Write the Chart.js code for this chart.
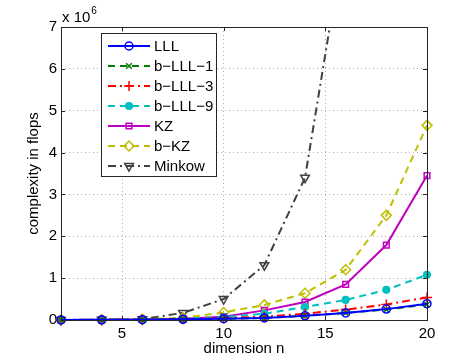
<!DOCTYPE html>
<html><head><meta charset="utf-8">
<script src="https://cdn.jsdelivr.net/npm/chart.js@4/dist/chart.umd.min.js"></script>
<style>html,body{margin:0;padding:0;background:#fff}#w{width:471px;height:360px}</style>
</head><body><div id="w"><canvas id="c" width="471" height="360"></canvas></div>
<script>
const dims = [2, 4, 6, 8, 10, 12, 14, 16, 18, 20];
const xTicks = [5, 10, 15, 20];
const yTicks = [0, 1, 2, 3, 4, 5, 6, 7];
// values in units of 10^6 flops
const LLL    = [0.001, 0.003, 0.008, 0.015, 0.03, 0.05, 0.10, 0.17, 0.26, 0.39];
const bLLL1  = [0.001, 0.003, 0.007, 0.014, 0.028, 0.05, 0.10, 0.17, 0.25, 0.37];
const bLLL3  = [0.001, 0.003, 0.010, 0.020, 0.04, 0.08, 0.15, 0.25, 0.37, 0.54];
const bLLL9  = [0.001, 0.004, 0.012, 0.030, 0.07, 0.15, 0.31, 0.48, 0.72, 1.08];
const KZ     = [0.001, 0.004, 0.012, 0.030, 0.08, 0.23, 0.43, 0.85, 1.79, 3.45];
const bKZ    = [0.001, 0.005, 0.020, 0.050, 0.18, 0.36, 0.64, 1.20, 2.50, 4.65];
const Minkow = [0.002, 0.005, 0.020, 0.17, 0.50, 1.31, 3.40, 9.3, null, null];
const names = ["LLL", "b\u2212LLL\u22121", "b\u2212LLL\u22123", "b\u2212LLL\u22129", "KZ", "b\u2212KZ", "Minkow"];

const FONT = '"Liberation Sans", Arial, Helvetica, sans-serif';
const mk = (label, data, color, dash, style, fill, rot, r) => ({
  label, data: dims.map((x, i) => ({x, y: data[i]})),
  borderColor: color, backgroundColor: fill ? color : 'rgba(0,0,0,0)',
  borderWidth: 2, borderDash: dash, pointStyle: style, pointRadius: r || 4,
  pointBorderWidth: 1.5, pointBorderColor: color, pointBackgroundColor: fill ? color : 'rgba(0,0,0,0)',
  pointRotation: rot || 0, tension: 0, spanGaps: false,
  clip: {left: 10, right: 10, bottom: 10, top: 0}
});
const datasets = [
  mk(names[0], LLL, '#0000ff', [], 'circle', false),
  mk(names[1], bLLL1, '#008000', [7, 5], 'crossRot', false),
  mk(names[2], bLLL3, '#ff0000', [8, 4, 2, 4], 'cross', false, 0, 5),
  mk(names[3], bLLL9, '#00bfbf', [7, 5], 'circle', true, 0, 3.3),
  mk(names[4], KZ, '#bf00bf', [], 'rect', false),
  mk(names[5], bKZ, '#bfbf00', [7, 5], 'rectRot', false, 0, 5),
  mk(names[6], Minkow, '#404040', [8, 4, 2, 4], 'triangle', false, 180, 5)
];

const framePlugin = {
  id: 'frame',
  afterDraw(chart) {
    const {ctx, chartArea: a, scales} = chart;
    ctx.save();
    ctx.strokeStyle = '#262626'; ctx.lineWidth = 1;
    ctx.strokeRect(a.left + 0.5, a.top + 0.5, a.right - a.left, a.bottom - a.top);
    ctx.beginPath();
    xTicks.forEach(v => { const p = Math.round(scales.x.getPixelForValue(v)) + 0.5;
      ctx.moveTo(p, a.bottom); ctx.lineTo(p, a.bottom - 4);
      ctx.moveTo(p, a.top); ctx.lineTo(p, a.top + 4); });
    yTicks.forEach(v => { const p = Math.round(scales.y.getPixelForValue(v)) + 0.5;
      ctx.moveTo(a.left, p); ctx.lineTo(a.left + 4, p);
      ctx.moveTo(a.right, p); ctx.lineTo(a.right - 4, p); });
    ctx.stroke();
    // exponent label
    ctx.fillStyle = '#000'; ctx.textBaseline = 'alphabetic'; ctx.textAlign = 'left';
    ctx.font = '15px ' + FONT;
    ctx.fillText('x 10', a.left + 1, a.top - 5);
    const w = ctx.measureText('x 10').width;
    ctx.font = '10px ' + FONT;
    ctx.fillText('6', a.left + 2 + w, a.top - 13);
    // legend
    const lx = 101, ly = 33, lw = 115, lh = 143;
    ctx.fillStyle = '#fff'; ctx.fillRect(lx, ly, lw, lh);
    ctx.strokeStyle = '#262626'; ctx.lineWidth = 1;
    ctx.strokeRect(lx + 0.5, ly + 0.5, lw, lh);
    chart.data.datasets.forEach((d, i) => {
      const y = 46 + i * 20;
      ctx.save();
      ctx.strokeStyle = d.borderColor; ctx.lineWidth = d.borderWidth;
      ctx.setLineDash(d.borderDash.length ? d.borderDash : []);
      ctx.beginPath(); ctx.moveTo(108, y); ctx.lineTo(150, y); ctx.stroke();
      ctx.setLineDash([]);
      ctx.fillStyle = d.pointBackgroundColor; ctx.strokeStyle = d.pointBorderColor;
      ctx.lineWidth = d.pointBorderWidth;
      Chart.helpers.drawPoint(ctx, {pointStyle: d.pointStyle, radius: d.pointRadius, rotation: d.pointRotation, borderWidth: d.pointBorderWidth}, 129, y);
      ctx.restore();
      ctx.fillStyle = '#000'; ctx.font = '15px ' + FONT;
      ctx.textBaseline = 'middle'; ctx.textAlign = 'left';
      ctx.fillText(d.label, 154, y + 1);
    });
    ctx.restore();
  }
};

new Chart(document.getElementById('c'), {
  type: 'line',
  data: {datasets},
  options: {
    responsive: false, animation: false, devicePixelRatio: 1,
    layout: {padding: {top: 27, right: 44, left: 0, bottom: 0}},
    plugins: {legend: {display: false}, tooltip: {enabled: false}},
    scales: {
      x: {
        type: 'linear', min: 2, max: 20,
        afterBuildTicks: s => { s.ticks = xTicks.map(v => ({value: v})); },
        afterFit: s => { s.height = 40; },
        grid: {color: '#b0b0b0', drawTicks: false, lineWidth: 1},
        border: {display: false, dash: [1, 3]},
        ticks: {padding: 5, color: '#000', font: {family: FONT, size: 15}, maxRotation: 0},
        title: {display: true, text: 'dimension n', color: '#000', font: {family: FONT, size: 15}, padding: {top: 0, bottom: 2}}
      },
      y: {
        type: 'linear', min: 0, max: 7,
        afterBuildTicks: s => { s.ticks = yTicks.map(v => ({value: v})); },
        afterFit: s => { s.width = 61; },
        grid: {color: '#b0b0b0', drawTicks: false, lineWidth: 1},
        border: {display: false, dash: [1, 3]},
        ticks: {padding: 4, color: '#000', font: {family: FONT, size: 15}},
        title: {display: true, text: 'complexity in flops', color: '#000', font: {family: FONT, size: 15}, padding: {top: 25, bottom: 0}}
      }
    }
  },
  plugins: [framePlugin]
});
</script></body></html>
